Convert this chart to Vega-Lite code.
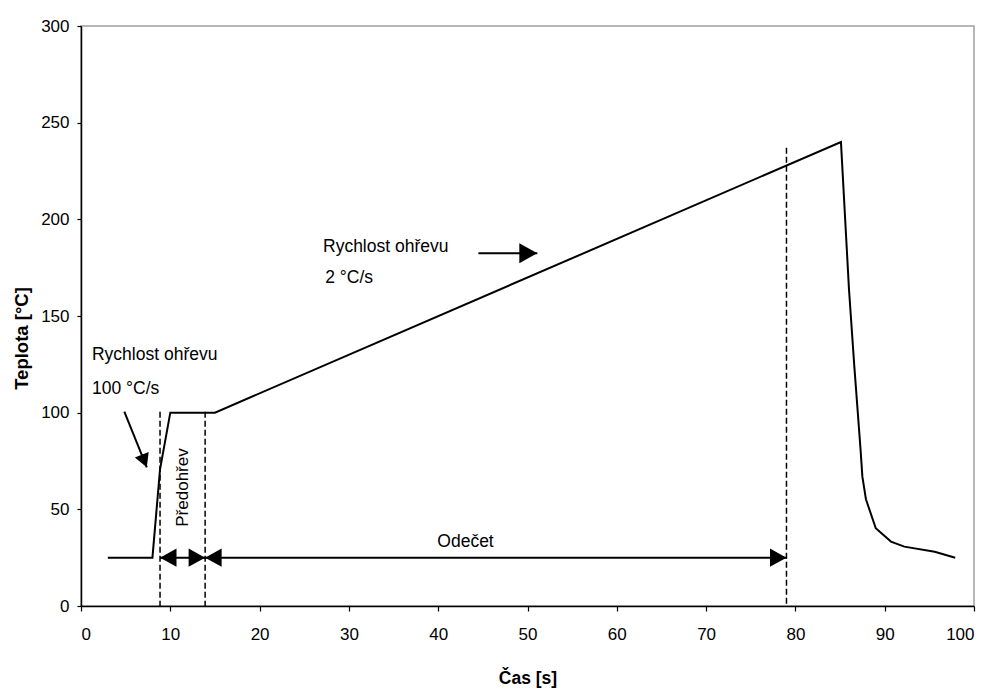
{
  "$schema": "https://vega.github.io/schema/vega-lite/v6.json",
  "width": 893,
  "height": 580,
  "autosize": {"type": "none"},
  "padding": {"left": 81, "top": 26, "right": 15, "bottom": 85},
  "background": "white",
  "config": {
    "view": {"stroke": "#a0a0a0", "strokeWidth": 1.5},
    "axis": {
      "grid": false,
      "domainColor": "black",
      "domainWidth": 1.5,
      "tickColor": "black",
      "tickWidth": 1.2,
      "labelFont": "Liberation Sans",
      "labelFontSize": 17,
      "labelColor": "black",
      "titleColor": "black"
    }
  },
  "datasets": {
    "curve": [
      {"t": 3, "temp": 25}, {"t": 8, "temp": 25}, {"t": 8.85, "temp": 70.7},
      {"t": 10, "temp": 100}, {"t": 15, "temp": 100}, {"t": 85.1, "temp": 240},
      {"t": 86, "temp": 163.8}, {"t": 86.6, "temp": 123.8}, {"t": 87.3, "temp": 80.7},
      {"t": 87.5, "temp": 66.9}, {"t": 87.9, "temp": 55.2}, {"t": 89, "temp": 40.2},
      {"t": 90.7, "temp": 33.3}, {"t": 92.2, "temp": 30.7}, {"t": 95.6, "temp": 28.1},
      {"t": 97.9, "temp": 25}
    ],
    "guides": [
      {"t": 8.85, "top": 100.5},
      {"t": 13.9, "top": 100.5},
      {"t": 79, "top": 237}
    ],
    "arrows": [
      {"x1": 8.85, "y1": 25, "x2": 79, "y2": 25},
      {"x1": 44.5, "y1": 182.5, "x2": 51.1, "y2": 182.5},
      {"x1": 4.85, "y1": 100.5, "x2": 7.37, "y2": 71.75}
    ],
    "heads": [
      {"t": 8.85, "temp": 25, "dir": "left", "sz": 335},
      {"t": 13.9, "temp": 25, "dir": "right", "sz": 335},
      {"t": 13.9, "temp": 25, "dir": "left", "sz": 335},
      {"t": 79, "temp": 25, "dir": "right", "sz": 335},
      {"t": 51.1, "temp": 182.5, "dir": "right", "sz": 400},
      {"t": 7.37, "temp": 71.75, "dir": "diag", "sz": 225}
    ],
    "labels": [
      {"t": 1.23, "temp": 127.2, "text": "Rychlost ohřevu"},
      {"t": 1.23, "temp": 109.7, "text": "100 °C/s"},
      {"t": 27.1, "temp": 183.3, "text": "Rychlost ohřevu"},
      {"t": 27.35, "temp": 166.9, "text": "2 °C/s"},
      {"t": 39.9, "temp": 30.7, "text": "Odečet"}
    ],
    "vlabels": [
      {"t": 12.03, "temp": 41, "text": "Předohřev"}
    ]
  },
  "layer": [
    {
      "data": {"name": "curve"},
      "mark": {"type": "line", "color": "black", "strokeWidth": 2},
      "encoding": {
        "x": {
          "field": "t", "type": "quantitative",
          "scale": {"domain": [0, 100], "nice": false},
          "axis": {
            "title": "Čas [s]",
            "values": [0, 10, 20, 30, 40, 50, 60, 70, 80, 90, 100],
            "tickSize": 5,
            "labelPadding": 15,
            "titleFont": "Liberation Sans",
            "titleFontWeight": "bold",
            "titleFontSize": 17.5,
            "titleX": 446.5,
            "titleY": 77.3,
            "titleAlign": "center",
            "titleBaseline": "alphabetic"
          }
        },
        "y": {
          "field": "temp", "type": "quantitative",
          "scale": {"domain": [0, 300], "nice": false},
          "axis": {
            "title": "Teplota [°C]",
            "values": [0, 50, 100, 150, 200, 250, 300],
            "tickSize": 4,
            "labelPadding": 8,
            "titleFont": "Liberation Sans",
            "titleFontWeight": "bold",
            "titleFontSize": 18.5,
            "titleAngle": 270,
            "titleX": -54,
            "titleY": 312,
            "titleAlign": "center",
            "titleBaseline": "alphabetic"
          }
        }
      }
    },
    {
      "data": {"name": "guides"},
      "mark": {"type": "rule", "strokeDash": [6, 3], "strokeWidth": 1.5, "color": "black"},
      "encoding": {
        "x": {"field": "t", "type": "quantitative"},
        "y": {"field": "top", "type": "quantitative"},
        "y2": {"datum": 0}
      }
    },
    {
      "data": {"name": "arrows"},
      "mark": {"type": "rule", "strokeWidth": 2, "color": "black"},
      "encoding": {
        "x": {"field": "x1", "type": "quantitative"},
        "y": {"field": "y1", "type": "quantitative"},
        "x2": {"field": "x2"},
        "y2": {"field": "y2"}
      }
    },
    {
      "data": {"name": "heads"},
      "transform": [{"filter": "datum.dir === 'left'"}],
      "mark": {"type": "point", "shape": "M0,0L1.8,-1L1.8,1Z", "filled": true, "color": "black", "opacity": 1, "strokeWidth": 0},
      "encoding": {
        "x": {"field": "t", "type": "quantitative"},
        "y": {"field": "temp", "type": "quantitative"},
        "size": {"field": "sz", "type": "quantitative", "scale": null, "legend": null}
      }
    },
    {
      "data": {"name": "heads"},
      "transform": [{"filter": "datum.dir === 'right'"}],
      "mark": {"type": "point", "shape": "M0,0L-1.8,-1L-1.8,1Z", "filled": true, "color": "black", "opacity": 1, "strokeWidth": 0},
      "encoding": {
        "x": {"field": "t", "type": "quantitative"},
        "y": {"field": "temp", "type": "quantitative"},
        "size": {"field": "sz", "type": "quantitative", "scale": null, "legend": null}
      }
    },
    {
      "data": {"name": "heads"},
      "transform": [{"filter": "datum.dir === 'diag'"}],
      "mark": {"type": "point", "shape": "M0,0L-1,-1.8L1,-1.8Z", "angle": 338, "filled": true, "color": "black", "opacity": 1, "strokeWidth": 0},
      "encoding": {
        "x": {"field": "t", "type": "quantitative"},
        "y": {"field": "temp", "type": "quantitative"},
        "size": {"field": "sz", "type": "quantitative", "scale": null, "legend": null}
      }
    },
    {
      "data": {"name": "labels"},
      "mark": {"type": "text", "align": "left", "baseline": "alphabetic", "font": "Liberation Sans", "fontSize": 17.5, "color": "black"},
      "encoding": {
        "x": {"field": "t", "type": "quantitative"},
        "y": {"field": "temp", "type": "quantitative"},
        "text": {"field": "text"}
      }
    },
    {
      "data": {"name": "vlabels"},
      "mark": {"type": "text", "align": "left", "baseline": "alphabetic", "angle": 270, "font": "Liberation Sans", "fontSize": 17, "color": "black"},
      "encoding": {
        "x": {"field": "t", "type": "quantitative"},
        "y": {"field": "temp", "type": "quantitative"},
        "text": {"field": "text"}
      }
    }
  ]
}
